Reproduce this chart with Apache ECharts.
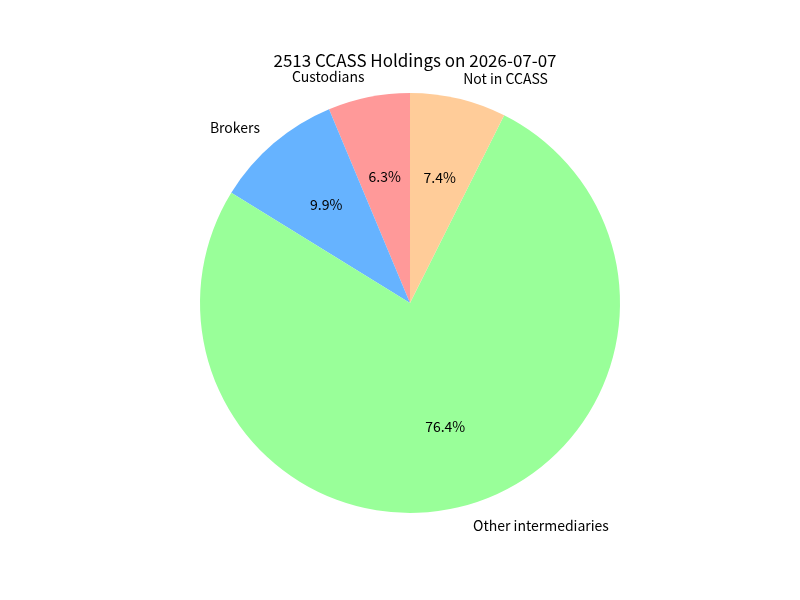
<!DOCTYPE html>
<html>
<head>
<meta charset="utf-8">
<script src="https://cdn.jsdelivr.net/npm/echarts@6/dist/echarts.min.js"></script>
<style>
  html, body { margin: 0; padding: 0; background: #fff; }
  #main { width: 800px; height: 600px; }
</style>
</head>
<body>
<div id="main"></div>
<script>
// slices, counter-clockwise from 12 o'clock (same order as the source plot)
var categories = ['Custodians', 'Brokers', 'Other intermediaries', 'Not in CCASS'];
var shares = [6.3, 9.9, 76.4, 7.4];
var colors = ['#ff9999', '#66b3ff', '#99ff99', '#ffcc99'];

var font = '"Noto Sans CJK SC", "Noto Sans", sans-serif';
var R = 210;

var chart = echarts.init(document.getElementById('main'));

var sliceData = categories.map(function (name, i) {
    return { name: name, value: shares[i], itemStyle: { color: colors[i] } };
});
var pctData = categories.map(function (name, i) {
    return { name: name, value: shares[i] };
});

var option = {
    animation: false,
    title: {
        text: '2513 CCASS Holdings on 2026-07-07',
        left: 410,
        top: 47,
        textAlign: 'center',
        textStyle: { fontFamily: font, fontSize: 17, fontWeight: 'normal', color: '#000' }
    },
    series: [
        {
            // slices + outer name labels at 1.1 r
            type: 'pie',
            center: [410, 303],
            radius: [0, R],
            startAngle: 90,
            clockwise: false,
            avoidLabelOverlap: false,
            silent: true,
            data: sliceData,
            label: {
                show: true,
                position: 'outside',
                formatter: '{b}',
                fontFamily: font,
                fontSize: 14,
                color: '#000',
                distanceToLabelLine: 0
            },
            labelLine: { show: false, length: R * 0.1, length2: 0 }
        },
        {
            // invisible ring used only to place the percentages at 0.6 r
            type: 'pie',
            center: [410, 303],
            radius: [0, R * 1.2],
            startAngle: 90,
            clockwise: false,
            silent: true,
            data: pctData,
            itemStyle: { color: 'rgba(0,0,0,0)' },
            label: {
                show: true,
                position: 'inside',
                formatter: function (p) { return p.value.toFixed(1) + '%'; },
                fontFamily: font,
                fontSize: 14,
                color: '#000'
            },
            labelLine: { show: false }
        }
    ]
};

chart.setOption(option);
</script>
</body>
</html>
